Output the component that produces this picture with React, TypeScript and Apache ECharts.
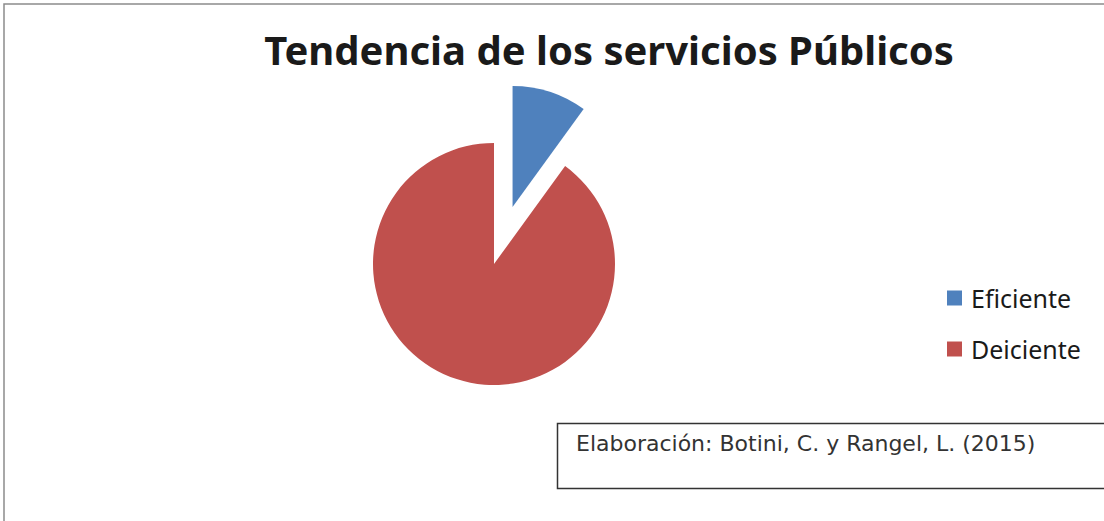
import React, { useEffect, useRef } from "react";
import * as echarts from "echarts";

const titleText = "Tendencia de los servicios Públicos";
const categories = ["Eficiente", "Deiciente"];
const values = [10, 90];
const colors = ["#4F81BD", "#C0504D"];
const sourceNote = "Elaboración: Botini, C. y Rangel, L. (2015)";

export default function App() {
  const ref = useRef<HTMLDivElement>(null);
  useEffect(() => {
    document.body.style.margin = "0";
    const chart = echarts.init(ref.current!, null, { renderer: "svg" });
    chart.setOption({
      animation: false,
      backgroundColor: "#ffffff",
      title: {
        text: titleText,
        left: 604,
        textAlign: "center",
        top: 24,
        textStyle: {
          fontFamily: "Noto Sans",
          fontWeight: "bold",
          fontSize: 40,
          color: "#1a1a1a",
        },
      },
      legend: {
        orient: "vertical",
        left: 947,
        top: 284,
        padding: 0,
        icon: "rect",
        itemWidth: 15,
        itemHeight: 15,
        itemGap: 23,
        selectedMode: false,
        data: categories,
        textStyle: {
          fontFamily: "Noto Sans",
          fontSize: 25,
          color: "#1a1a1a",
          lineHeight: 28,
          padding: [0, 0, 0, 4],
        },
      },
      graphic: [
        {
          type: "rect",
          shape: { x: 4, y: 4, width: 1200, height: 600 },
          style: { fill: "none", stroke: "#8c8c8c", lineWidth: 1.5 },
          silent: true,
        },
        {
          type: "rect",
          shape: { x: 557.5, y: 423.5, width: 600, height: 65 },
          style: { fill: "#ffffff", stroke: "#333333", lineWidth: 1.5 },
          silent: true,
          z: 10,
        },
        {
          type: "text",
          x: 576,
          y: 443,
          style: {
            text: sourceNote,
            fontFamily: "DejaVu Sans",
            fontSize: 22,
            fill: "#333333",
            textVerticalAlign: "middle",
          },
          silent: true,
          z: 11,
        },
      ],
      series: [
        {
          type: "pie",
          center: [494, 264],
          radius: 121,
          startAngle: 90,
          clockwise: true,
          selectedMode: "single",
          selectedOffset: 60,
          label: { show: false },
          labelLine: { show: false },
          emphasis: { disabled: true },
          silent: true,
          data: categories.map((name, i) => ({
            name,
            value: values[i],
            selected: i === 0,
            itemStyle: { color: colors[i] },
          })),
        },
      ],
    });
    return () => chart.dispose();
  }, []);
  return <div ref={ref} style={{ width: 1104, height: 521 }} />;
}
